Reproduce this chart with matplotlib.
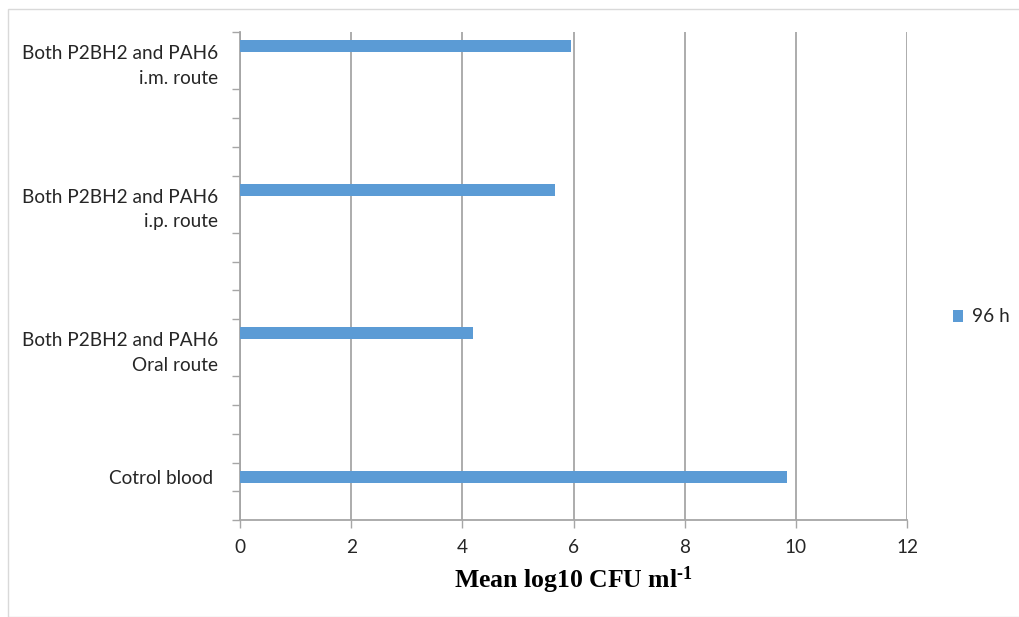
import matplotlib
matplotlib.use("Agg")
import matplotlib.pyplot as plt
from matplotlib.patches import Rectangle
from matplotlib.ticker import MultipleLocator, FixedLocator

categories = ["Cotrol blood",
              "Both P2BH2 and PAH6\nOral route",
              "Both P2BH2 and PAH6\ni.p. route",
              "Both P2BH2 and PAH6\ni.m. route"]
values_96h = [9.84, 4.20, 5.67, 5.95]
series_name = "96 h"
x_ticks = [0, 2, 4, 6, 8, 10, 12]
x_label = r"Mean log10 CFU ml$^{\text{-1}}$"

plt.rcParams['mathtext.fontset'] = 'custom'
plt.rcParams['mathtext.rm'] = 'Liberation Serif:bold'
plt.rcParams['mathtext.bf'] = 'Liberation Serif:bold'
plt.rcParams['mathtext.default'] = 'bf'

FONT = "Lato"
FS = 13.7
TXT = "#262626"
GRID = "#A6A6A6"
BLUE = "#5B9BD5"

fig = plt.figure(figsize=(10.19, 6.17), dpi=100)
fig.patches.append(Rectangle((8/1019, 0), 1.2, 1 - 9/617, transform=fig.transFigure,
                             fill=False, edgecolor="#D9D9D9", linewidth=1.0))
ax = fig.add_axes([240/1019, 1 - 520/617, (907-240)/1019, (520-32)/617])

step = 5
pos = [1.5 + step*i for i in range(len(categories))]
ax.barh(pos, values_96h, height=0.42, color=BLUE, label=series_name, zorder=3)

ax.set_xlim(0, 12)
ax.set_ylim(0, 17)
ax.set_xticks(x_ticks)
ax.set_xticklabels([str(t) for t in x_ticks], fontfamily=FONT, fontsize=FS, color=TXT)
ax.tick_params(axis='x', direction='out', length=6, width=1, color=GRID, pad=8)
ax.grid(axis='x', color=GRID, linewidth=1.3, zorder=0)

ax.yaxis.set_minor_locator(MultipleLocator(1))
ax.tick_params(axis='y', which='minor', direction='out', length=6, width=1, color=GRID)
label_pos = [p - 0.5*(c.count("\n")) for p, c in zip(pos, categories)]
ax.yaxis.set_major_locator(FixedLocator(label_pos))
ax.set_yticklabels([c if "\n" in c else c + " " for c in categories],
                   fontfamily=FONT, fontsize=FS, color=TXT, linespacing=1.55,
                   ha='right', multialignment='right')
ax.tick_params(axis='y', which='major', length=0, pad=16)

for s in ['top', 'right']:
    ax.spines[s].set_visible(False)
for s in ['left', 'bottom']:
    ax.spines[s].set_color(GRID)
    ax.spines[s].set_linewidth(1.3)

ax.set_xlabel(x_label, fontfamily="Liberation Serif", fontweight='bold', fontsize=18.5,
              color="black", labelpad=6)

leg = fig.legend(loc='center left', bbox_to_anchor=(953/1019, 1 - 317/617), frameon=False,
                 prop={'family': FONT, 'size': FS}, handlelength=0.55, handleheight=0.55,
                 handletextpad=0.45, borderpad=0, borderaxespad=0)
for t in leg.get_texts():
    t.set_color(TXT)

fig.savefig("out.png", dpi=100)
